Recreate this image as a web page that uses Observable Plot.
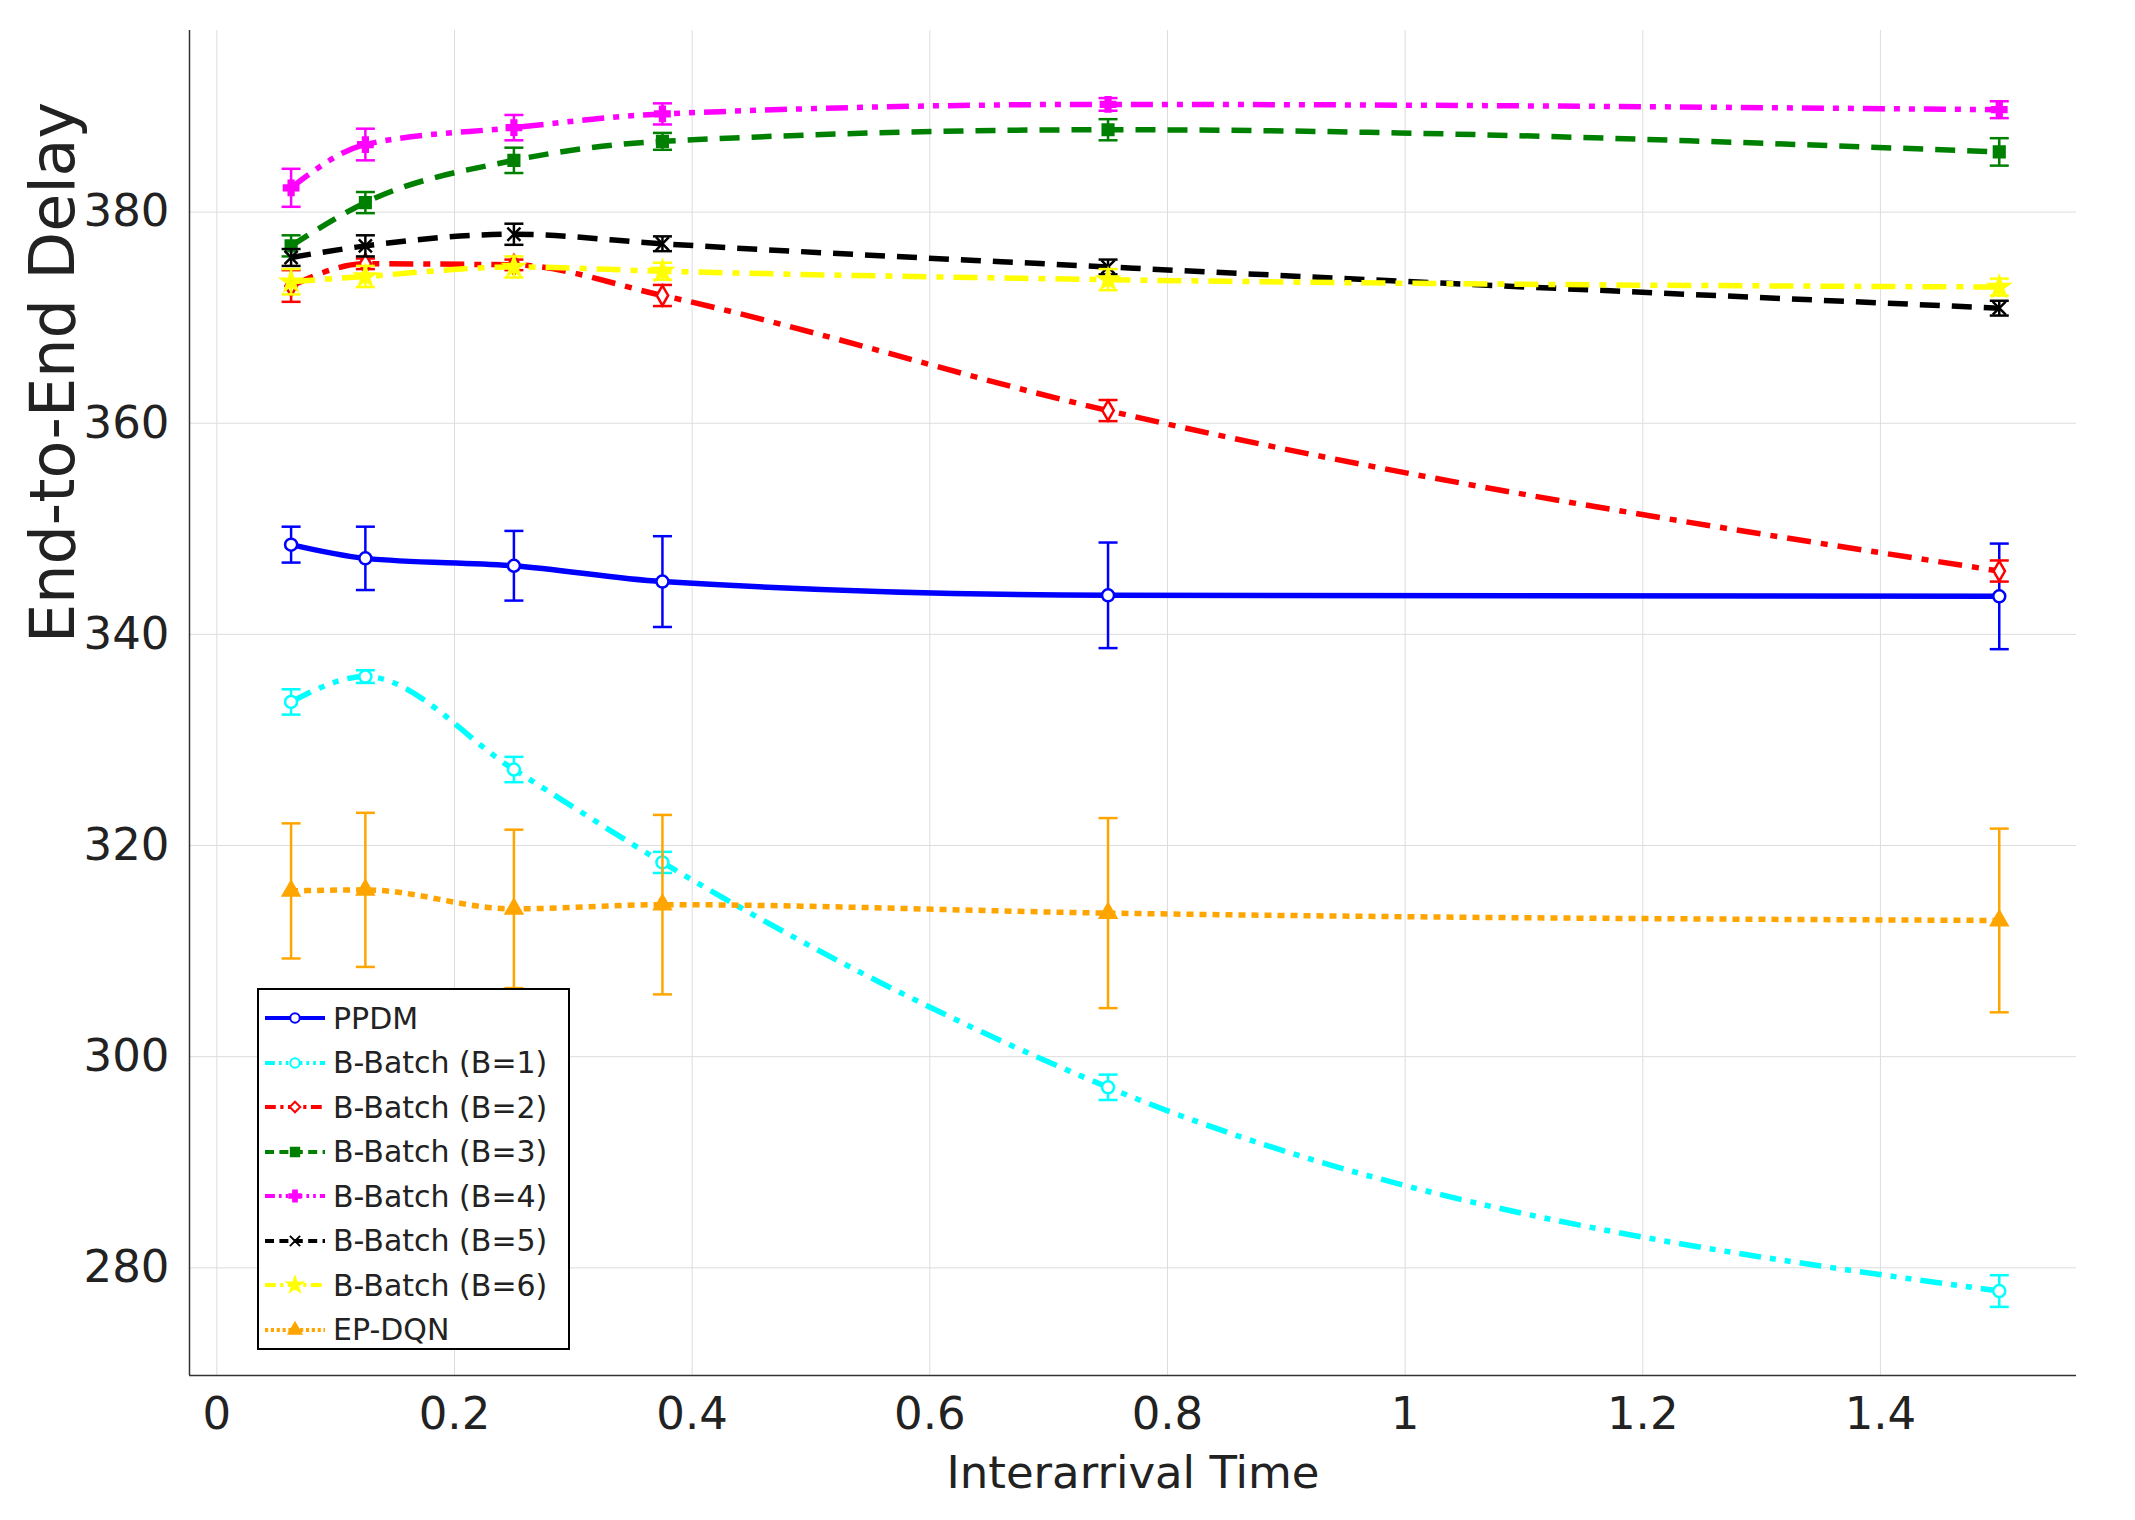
<!DOCTYPE html>
<html><head><meta charset="utf-8">
<script src="https://cdn.jsdelivr.net/npm/d3@7"></script>
<script src="https://cdn.jsdelivr.net/npm/@observablehq/plot@0.6"></script>
<style>body{margin:0;background:#fff;font-family:"DejaVu Sans",sans-serif}#wrap{position:relative;width:2135px;height:1520px}
#legend{position:absolute;left:257px;top:988px;width:313px;height:362px;border:2px solid #000;background:#fff;box-sizing:border-box;padding:6px 4px;font-size:30px;color:#222}
#legend div{display:flex;align-items:center;height:44.5px}#legend svg{margin-right:6px}</style>
</head><body><div id="wrap"><div id="legend"></div></div>
<script>
const xs=[0.0625,0.125,0.25,0.375,0.75,1.5];
const names=["PPDM","B-Batch (B=1)","B-Batch (B=2)","B-Batch (B=3)","B-Batch (B=4)","B-Batch (B=5)","B-Batch (B=6)","EP-DQN"];
const colors=["#0000ff","#00ffff","#ff0000","#008000","#ff00ff","#000000","#ffff00","#ffa500"];
const dashes=["none","22,9,6,9,6,9","24,10,7,10","20,12","22,9,6,9,6,9","20,12","24,10,7,10","7,6"];
const symbols=["circle","circle","diamond","square","cross","times","star","triangle"];
const filled=[false,false,false,true,true,true,true,true];
const means=[
[348.5,347.2,346.5,345.0,343.7,343.6],
[333.6,336.0,327.2,318.4,297.1,277.8],
[373.0,375.1,375.0,372.1,361.2,346.0],
[376.8,380.9,384.9,386.7,387.8,385.7],
[382.3,386.4,388.0,389.3,390.2,389.7],
[375.7,376.8,377.9,377.0,374.8,370.9],
[373.4,373.9,374.8,374.4,373.6,372.9],
[315.7,315.8,314.0,314.4,313.6,312.9]];
const errs=[
[1.7,3.0,3.3,4.3,5.0,5.0],
[1.2,0.6,1.2,1.0,1.2,1.5],
[1.5,0.5,0.5,1.0,1.0,1.0],
[1.0,1.0,1.2,0.8,1.0,1.3],
[1.8,1.5,1.2,1.0,0.6,0.8],
[0.8,1.0,1.0,0.7,0.7,0.7],
[1.2,1.0,1.0,0.8,1.0,0.8],
[6.4,7.3,7.5,8.5,9.0,8.7]];
const data=[];
names.forEach((n,i)=>xs.forEach((x,j)=>data.push({s:i,x,y:means[i][j],e:errs[i][j]})));
const marks=[Plot.gridX({ticks:[0,0.2,0.4,0.6,0.8,1,1.2,1.4],stroke:"#ddd",strokeOpacity:1}),
Plot.gridY({ticks:[280,300,320,340,360,380],stroke:"#ddd",strokeOpacity:1}),
Plot.axisX({ticks:[0,0.2,0.4,0.6,0.8,1,1.2,1.4],tickFormat:d=>String(+d.toFixed(1)),tickSize:0,tickPadding:22,fontSize:45,fill:"#222",label:"Interarrival Time",labelAnchor:"center",labelOffset:112,labelArrow:"none"}),
Plot.axisY({ticks:[280,300,320,340,360,380],tickSize:0,tickPadding:20,fontSize:45,fill:"#222",label:null}),
Plot.text(["End-to-End Delay"],{frameAnchor:"left",dx:-135,dy:-60,rotate:-90,fontSize:62,fill:"#222"}),
Plot.ruleX([0],{x:-0.023,stroke:"#333",strokeWidth:1.5}),Plot.ruleY([0],{y:269.8,stroke:"#333",strokeWidth:1.5})];
names.forEach((n,i)=>{
 const d=data.filter(r=>r.s===i);const c=colors[i];
 marks.push(Plot.link(d,{x1:"x",x2:"x",y1:r=>r.y-r.e,y2:r=>r.y+r.e,stroke:c,strokeWidth:2.5}));
 marks.push(Plot.link(d,{x1:r=>r.x-0.008,x2:r=>r.x+0.008,y1:r=>r.y-r.e,y2:r=>r.y-r.e,stroke:c,strokeWidth:2.5}));
 marks.push(Plot.link(d,{x1:r=>r.x-0.008,x2:r=>r.x+0.008,y1:r=>r.y+r.e,y2:r=>r.y+r.e,stroke:c,strokeWidth:2.5}));
 marks.push(Plot.line(d,{x:"x",y:"y",stroke:c,strokeWidth:5.5,strokeDasharray:dashes[i],strokeLinecap:"butt",curve:"monotone-x"}));
 marks.push(Plot.dot(d,{x:"x",y:"y",symbol:symbols[i],r:6,stroke:c,strokeWidth:2.5,fill:filled[i]?c:"white"}));
});
const chart=Plot.plot({width:2135,height:1520,marginLeft:189,marginRight:59,marginTop:30,marginBottom:145,
x:{domain:[-0.023,1.565]},y:{domain:[269.8,397.2]},style:{fontFamily:"DejaVu Sans, sans-serif",background:"white"},marks});
document.getElementById("wrap").prepend(chart);
const L=document.getElementById("legend");
names.forEach((n,i)=>{
 const path=d3.symbol().type({circle:d3.symbolCircle,diamond:d3.symbolDiamond2,square:d3.symbolSquare,cross:d3.symbolCross,times:d3.symbolX,star:d3.symbolStar,triangle:d3.symbolTriangle}[symbols[i]]).size(70)();
 L.insertAdjacentHTML("beforeend",`<div><svg width="64" height="20"><line x1="2" x2="62" y1="10" y2="10" stroke="${colors[i]}" stroke-width="4" stroke-dasharray="${dashes[i]==="none"?"":dashes[i].split(",").map(v=>v*0.45).join(",")}"/><path d="${path}" transform="translate(32,10)" fill="${filled[i]?colors[i]:"white"}" stroke="${colors[i]}" stroke-width="2"/></svg>${n}</div>`);});
</script></body></html>
